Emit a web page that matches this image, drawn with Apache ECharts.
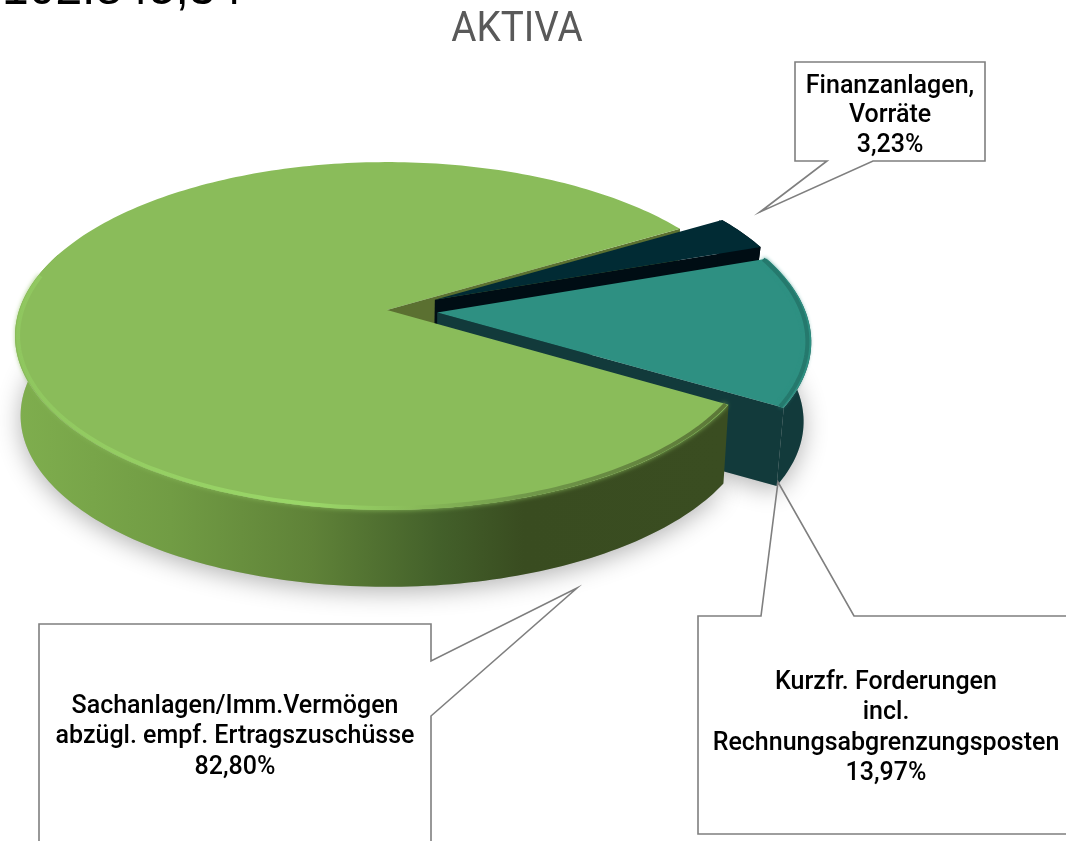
<!DOCTYPE html>
<html><head><meta charset="utf-8">
<style>html,body{margin:0;padding:0;background:#fff}#c{width:1066px;height:841px}</style>
<script src="https://cdn.jsdelivr.net/npm/echarts@6/dist/echarts.min.js"></script>
</head><body><div id="c"></div>
<script>
// ---- data ----
const sliceNames = ['Sachanlagen/Imm.Vermögen abzügl. empf. Ertragszuschüsse', 'Finanzanlagen, Vorräte', 'Kurzfr. Forderungen incl. Rechnungsabgrenzungsposten'];
const sliceValues = [82.80, 3.23, 13.97];
const titleText = 'AKTIVA';
const headerText = '102.845,34';
const labelGreen = ['Sachanlagen/Imm.Vermögen', 'abzügl. empf. Ertragszuschüsse', '82,80%'];
const labelDark = ['Finanzanlagen,', 'Vorräte', '3,23%'];
const labelTeal = ['Kurzfr. Forderungen', 'incl.', 'Rechnungsabgrenzungsposten', '13,97%'];

// ---- projection of the tilted disc ----
const CX = 387, CY = 310, A = 367.8, B = 170, P = 0.1494;
const DEPTH = 80, EXPLODE = [0, 0.145, 0.137];
const START_DEG = 31; // screen angle (clockwise from 3 o'clock) where the first slice begins
const LG = (x0, y0, x1, y1, stops) => new echarts.graphic.LinearGradient(x0, y0, x1, y1, stops.map((s) => ({offset: s[0], color: s[1]})), true);

function proj(u, v, shrink) {
  const w = 1 - P * v, s = shrink || 1;
  return [CX + s * A * u / w, CY + (shrink ? DEPTH : 0) + s * B * v / w];
}
function arc(a0, a1, ou, ov, shrink, r) {
  const out = [], n = Math.max(2, Math.ceil(Math.abs(a1 - a0) / 0.02));
  r = r || 1;
  for (let i = 0; i <= n; i++) {
    const t = a0 + (a1 - a0) * i / n;
    out.push(proj(ou + r * Math.cos(t), ov + r * Math.sin(t), shrink));
  }
  return out;
}
const total = sliceValues.reduce((a, b) => a + b, 0);
const styles = [
  {top: '#8abc5a', cut: '#5b7031', shrink: 0.985,
   wall: LG(15, 0, 722, 0, [[0, '#7fae4e'], [0.22, '#719c44'], [0.42, '#5f8238'], [0.6, '#43602a'], [0.72, '#394c20'], [1, '#3a4d21']]),
   rim: LG(15, 0, 722, 0, [[0, '#8fc65f'], [0.15, '#94cd62'], [0.42, '#9ad768'], [0.56, '#8abc5a'], [0.72, '#71994a'], [1, '#5c7838']]), rimW: 4, rimR: 0.992, blur: 5},
  {top: '#012b34', cut: '#000d14', wall: '#000d14', rim: '#012b34', rimW: 1, rimR: 0.99, blur: 0, shrink: 0.972},
  {top: '#2e9082', cut: '#123a3b', wall: '#123a3b', rim: '#25796d', rimW: 4, rimR: 0.99, blur: 4, shrink: 0.982}
];

function renderItem(params, api) {
  const i = params.dataIndex, st = styles[i];
  let acc = 0;
  for (let k = 0; k < i; k++) acc += sliceValues[k];
  const a0 = (START_DEG + 360 * acc / total) * Math.PI / 180;
  const a1 = a0 + 2 * Math.PI * api.value(0) / total;
  const mid = (a0 + a1) / 2;
  const ou = EXPLODE[i] * Math.cos(mid), ov = EXPLODE[i] * Math.sin(mid);
  const topArc = arc(a0, a1, ou, ov);
  const botArc = arc(a0, a1, ou, ov, st.shrink);
  const apexT = proj(ou, ov), apexB = proj(ou, ov, st.shrink);
  const children = [];
  // ground shadow
  children.push({type: 'polygon', z2: 1, shape: {points: [apexB].concat(botArc)},
    style: {fill: '#bbb', shadowBlur: 24, shadowColor: 'rgba(0,0,0,0.3)', shadowOffsetY: 5}});
  // the radial wall that faces the viewer
  const wallBase = i === 0 ? 10 : 20 + i * 10;
  const endT = topArc[topArc.length - 1];
  const endB = botArc[botArc.length - 1];
  children.push({type: 'polygon', z2: wallBase, shape: {points: [apexT, endT, endB, apexB]}, style: {fill: st.cut}});
  // outer wall: slice 0 only its front part (the back is hidden by the top face)
  const wa1 = i === 0 ? Math.min(a1, 200 * Math.PI / 180) : a1;
  const wTop = arc(a0, wa1, ou, ov), wBot = arc(a0, wa1, ou, ov, st.shrink);
  const frontZ = i === 0 ? 70 : wallBase + 1;
  children.push({type: 'polygon', z2: frontZ, shape: {points: wTop.concat(wBot.slice().reverse())}, style: {fill: st.wall}});
  // top face
  children.push({type: 'polygon', z2: frontZ + 1, shape: {points: [apexT].concat(topArc)}, style: {fill: st.top}});
  // bevel along the front of the rim
  const ra1 = i === 0 ? 192 * Math.PI / 180 : a1;
  children.push({type: 'polyline', z2: frontZ + 2, shape: {points: arc(a0, ra1, ou, ov, null, st.rimR)},
    style: {fill: 'none', stroke: st.rim, lineWidth: st.rimW, shadowBlur: st.blur, shadowColor: st.top}});
  return {type: 'group', children};
}

// ---- callouts ----
const strokeC = '#7f7f7f';
function callout(points) {
  return {type: 'polygon', z: 5, shape: {points}, style: {fill: 'none', stroke: strokeC, lineWidth: 1.6}};
}
function textBlock(lines, cx, ys, font) {
  return lines.map((t, k) => ({type: 'text', z: 6, x: cx, y: ys[k],
    style: {text: t, x: 0, y: 0, align: 'center', verticalAlign: 'middle', fill: '#000', font}}));
}
const LFONT = '500 25px Roboto';
const chart = echarts.init(document.getElementById('c'), null, {renderer: 'canvas', width: 1066, height: 841});
chart.setOption({
  animation: false,
  backgroundColor: '#fff',
  series: [{type: 'custom', coordinateSystem: 'none', renderItem, data: sliceValues.map((v, i) => ({name: sliceNames[i], value: [v]})), silent: true}],
  graphic: {elements: [
    callout([[795,62],[985,62],[985,161],[873,161],[760,212],[827,161],[795,161]]),
    callout([[39,900],[39,624],[431,624],[431,661],[577,588],[431,716],[431,900]]),
    callout([[1100,616],[854,616],[778,482],[761,616],[698,616],[698,834],[1100,834]]),
    {type: 'text', z: 6, x: 517, y: 30, scaleX: 0.92, style: {text: titleText, x: 0, y: 0, align: 'center', verticalAlign: 'middle', fill: '#595959', font: '42px Roboto'}},
    {type: 'text', z: 6, x: 2, y: -10, scaleX: 0.96, style: {text: headerText, x: 0, y: 0, align: 'left', verticalAlign: 'middle', fill: '#000', font: '50px "Liberation Sans"'}},
    ...textBlock(labelDark, 890, [87, 116, 146], LFONT),
    ...textBlock(labelGreen, 235, [707, 737, 768], LFONT),
    ...textBlock(labelTeal, 886, [683, 713, 744, 774], LFONT)
  ]}
});
</script></body></html>
